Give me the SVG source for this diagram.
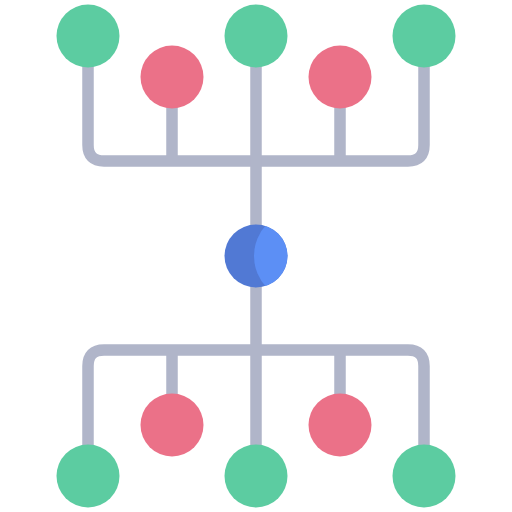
<svg xmlns="http://www.w3.org/2000/svg" width="512" height="512" viewBox="0 0 512 512">
<style>
.ln{fill:none;stroke:#b0b5c9;stroke-width:11.5;stroke-linecap:butt}
.g{fill:#5ccca1}
.r{fill:#eb7188}
</style>
<defs>
<clipPath id="bc"><circle cx="256" cy="256" r="31.5"/></clipPath>
</defs>
<rect width="512" height="512" fill="#fff"/>
<g id="connectors">
<path class="ln" d="M88 36 V145 Q88 161 104 161 H408 Q424 161 424 145 V36"/>
<path class="ln" d="M172 77 V161 M340 77 V161"/>
<path class="ln" d="M256 36 V476"/>
<path class="ln" d="M88 476 V366 Q88 350 104 350 H408 Q424 350 424 366 V476"/>
<path class="ln" d="M172 425 V350 M340 425 V350"/>
</g>
<g id="top-left"><circle class="g" cx="88" cy="36" r="31.5"/></g>
<g id="top-center"><circle class="g" cx="256" cy="36" r="31.5"/></g>
<g id="top-right"><circle class="g" cx="424" cy="36" r="31.5"/></g>
<g id="top-red-left"><circle class="r" cx="172" cy="77" r="31.5"/></g>
<g id="top-red-right"><circle class="r" cx="340" cy="77" r="31.5"/></g>
<g id="hub">
<circle cx="256" cy="256" r="31.5" fill="#5179d4"/>
<circle cx="300" cy="256" r="46" fill="#5c8ff5" clip-path="url(#bc)"/>
</g>
<g id="bottom-red-left"><circle class="r" cx="172" cy="425" r="31.5"/></g>
<g id="bottom-red-right"><circle class="r" cx="340" cy="425" r="31.5"/></g>
<g id="bottom-left"><circle class="g" cx="88" cy="476" r="31.5"/></g>
<g id="bottom-center"><circle class="g" cx="256" cy="476" r="31.5"/></g>
<g id="bottom-right"><circle class="g" cx="424" cy="476" r="31.5"/></g>
</svg>
